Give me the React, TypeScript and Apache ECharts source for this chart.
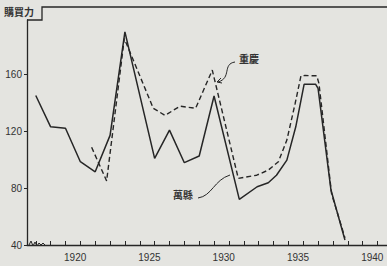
import React, { useEffect, useRef } from "react";
import * as echarts from "echarts";

// 萬縣 (solid line): [year, purchasing power]
const wanxianYears = [1917, 1918, 1919, 1920, 1921, 1922, 1923, 1925, 1926, 1927, 1928, 1929, 1930.7, 1931.9, 1932.65, 1933.2, 1933.9, 1934.5, 1935.06, 1935.84, 1936.0, 1936.87, 1937.81];
const wanxianValues = [145, 123, 122, 98.5, 91.4, 117, 189.7, 100.8, 120.7, 97.8, 102.5, 144.6, 72, 80.9, 83.7, 89, 99.6, 123, 152.8, 152.8, 150, 78.6, 43.5];

// 重慶 (dashed line)
const chongqingYears = [1920.76, 1921.77, 1922.96, 1924.91, 1925.7, 1926.71, 1927.76, 1928.88, 1930.63, 1931.87, 1932.65, 1933.33, 1933.9, 1934.45, 1934.85, 1935.12, 1935.91, 1936.06, 1936.91, 1937.81];
const chongqingValues = [108.6, 85, 185, 136, 131, 137.5, 136, 162.8, 86.8, 89, 92.6, 98.5, 113.7, 139, 158.8, 159, 158.8, 153.5, 76, 45];

const yTicks = [40, 80, 120, 160];
const xLabelYears = [1920, 1925, 1930, 1935, 1940];
const xTickYears = [1917, 1918, 1919, 1920, 1921, 1922, 1923, 1924, 1925, 1926, 1927, 1928, 1929, 1930, 1931, 1932, 1933, 1934, 1935, 1936, 1937, 1938, 1939, 1940];

const yTitle = "購買力";
const labelChongqing = "重慶";
const labelWanxian = "萬縣";

const INK = "#262626";
const BG = "#e4e4e0";

export default function App() {
  const ref = useRef<HTMLDivElement>(null);
  useEffect(() => {
    if (!ref.current) return;
    const chart = echarts.init(ref.current, null, { renderer: "svg" });
    const pair = (xs: number[], ys: number[]) => xs.map((x, i) => [x, ys[i]]);
    const labelShift = 0.35;
    chart.setOption({
      animation: false,
      backgroundColor: BG,
      grid: { left: 27, right: 0, top: 20, bottom: 21, containLabel: false, outerBoundsMode: "none" },
      xAxis: {
        type: "value",
        min: 1916.41,
        max: 1940.64,
        splitLine: { show: false },
        axisLine: { show: true, lineStyle: { color: INK, width: 1.3 } },
        axisTick: { show: true, inside: true, length: 4, lineStyle: { color: INK }, customValues: xTickYears },
        axisLabel: {
          customValues: xLabelYears.map((y) => y - labelShift),
          formatter: (v: number) => String(Math.round(v)),
          color: "#333",
          fontSize: 10,
          fontFamily: "Liberation Sans",
          margin: 7,
        },
      },
      yAxis: {
        type: "value",
        min: 40,
        max: 198,
        splitLine: { show: false },
        axisLine: { show: true, lineStyle: { color: INK, width: 1.3 } },
        axisTick: { show: true, length: 3, lineStyle: { color: INK }, customValues: yTicks },
        axisLabel: {
          customValues: yTicks,
          color: "#333",
          fontSize: 10,
          fontFamily: "Liberation Sans",
          margin: 5,
        },
      },
      series: [
        {
          name: labelWanxian,
          type: "line",
          data: pair(wanxianYears, wanxianValues),
          symbol: "none",
          lineStyle: { color: INK, width: 1.5 },
        },
        {
          name: labelChongqing,
          type: "line",
          data: pair(chongqingYears, chongqingValues),
          symbol: "none",
          lineStyle: { color: INK, width: 1.4, type: [5, 3] },
        },
      ],
      graphic: [
        {
          type: "polyline",
          shape: { points: [[27, 20], [42, 20], [42, 7], [387, 7]] },
          style: { stroke: INK, lineWidth: 1.3, fill: "none" },
        },
        {
          type: "polyline",
          shape: { points: [[29, 245], [31, 241], [33, 246], [35, 242], [37, 246], [39, 243], [41, 245], [43, 243], [45, 245]] },
          style: { stroke: INK, lineWidth: 1, fill: "none" },
        },
        {
          type: "text",
          x: 4,
          y: 6,
          style: { text: yTitle, fontSize: 10, fontWeight: "bold", fill: "#333", fontFamily: "Noto Sans CJK TC" },
        },
        {
          type: "text",
          x: 239,
          y: 53,
          style: { text: labelChongqing, fontSize: 10, fontWeight: "bold", fill: "#333", fontFamily: "Noto Sans CJK TC" },
        },
        {
          type: "bezierCurve",
          shape: { x1: 235, y1: 62, cpx1: 222, cpy1: 64, cpx2: 232, cpy2: 78, x2: 218, y2: 82 },
          style: { stroke: INK, lineWidth: 1, fill: "none" },
        },
        {
          type: "polyline",
          shape: { points: [[221, 78], [217, 82], [222, 83]] },
          style: { stroke: INK, lineWidth: 1, fill: "none" },
        },
        {
          type: "text",
          x: 173,
          y: 189,
          style: { text: labelWanxian, fontSize: 10, fontWeight: "bold", fill: "#333", fontFamily: "Noto Sans CJK TC" },
        },
        {
          type: "bezierCurve",
          shape: { x1: 198, y1: 198, cpx1: 212, cpy1: 196, cpx2: 214, cpy2: 180, x2: 230, y2: 175 },
          style: { stroke: INK, lineWidth: 1, fill: "none" },
        },
      ],
    });
    return () => chart.dispose();
  }, []);
  return <div ref={ref} style={{ position: "fixed", left: 0, top: 0, width: 387, height: 266 }} />;
}
